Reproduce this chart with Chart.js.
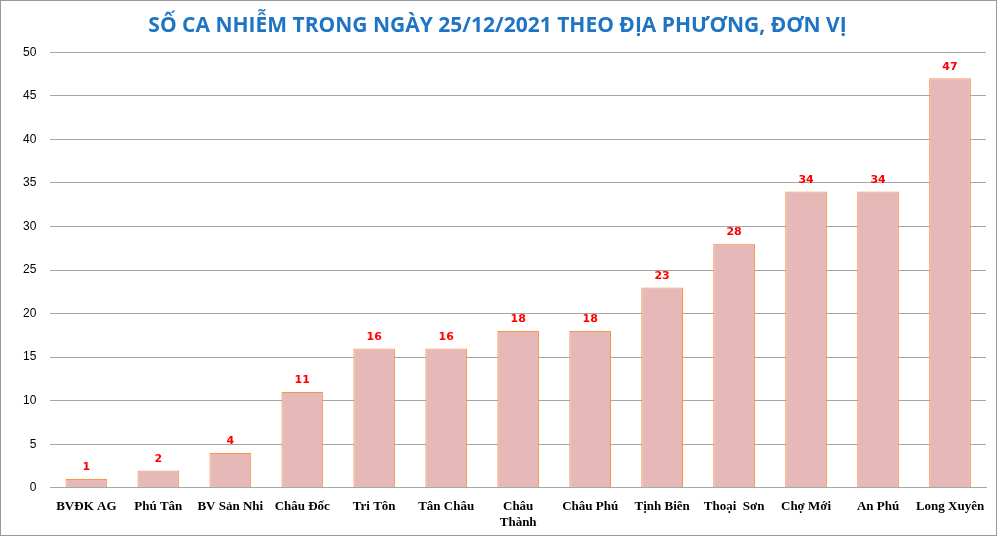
<!DOCTYPE html>
<html><head><meta charset="utf-8">
<script src="https://cdn.jsdelivr.net/npm/chart.js@4"></script>
<style>html,body{margin:0;padding:0;background:#fff}#w{width:995px;height:534px;border:1px solid #999;position:relative}</style>
</head><body><div id="w"><canvas id="c"></canvas></div>
<script>
const categories=["BVĐK AG","Phú Tân","BV Sản Nhi","Châu Đốc","Tri Tôn","Tân Châu",["Châu","Thành"],"Châu Phú","Tịnh Biên","Thoại  Sơn","Chợ Mới","An Phú","Long Xuyên"];
const values=[1,2,4,11,16,16,18,18,23,28,34,34,47];
const yTicks=[0,5,10,15,20,25,30,35,40,45,50];
const labelPlugin={id:'lbl',afterDatasetsDraw(ch){const c=ch.ctx;const m=ch.getDatasetMeta(0);c.save();c.fillStyle='#ff0000';c.font='bold 11px "DejaVu Sans", Arial';c.textAlign='center';c.textBaseline='bottom';m.data.forEach((b,i)=>c.fillText(values[i],b.x,b.y-6));c.restore();}};
new Chart(document.getElementById('c'),{type:'bar',
data:{labels:categories,datasets:[{data:values,backgroundColor:'#e6b8b7',borderColor:'#f79646',borderWidth:1,categoryPercentage:1,barPercentage:0.58}]},
options:{responsive:true,maintainAspectRatio:false,animation:false,
layout:{padding:{left:8,right:10,top:4,bottom:2}},
plugins:{legend:{display:false},tooltip:{enabled:false},
title:{display:true,text:'SỐ CA NHIỄM TRONG NGÀY 25/12/2021 THEO ĐỊA PHƯƠNG, ĐƠN VỊ',color:'#1f75c4',font:{family:'"Open Sans", Arial',size:21,weight:'bold'},padding:{top:8,bottom:14}}},
scales:{y:{min:0,max:50,afterBuildTicks:a=>{a.ticks=yTicks.map(v=>({value:v}))},grid:{color:'#a6a6a6',drawTicks:false},border:{display:false},ticks:{padding:14,color:'#000',font:{family:'"Liberation Sans", Arial',size:12}}},
x:{grid:{display:false},border:{color:'#a6a6a6'},ticks:{maxRotation:0,autoSkip:false,color:'#000',font:{family:'"Liberation Serif", serif',size:13,weight:'bold'}}}}},
plugins:[labelPlugin]});
</script></body></html>
